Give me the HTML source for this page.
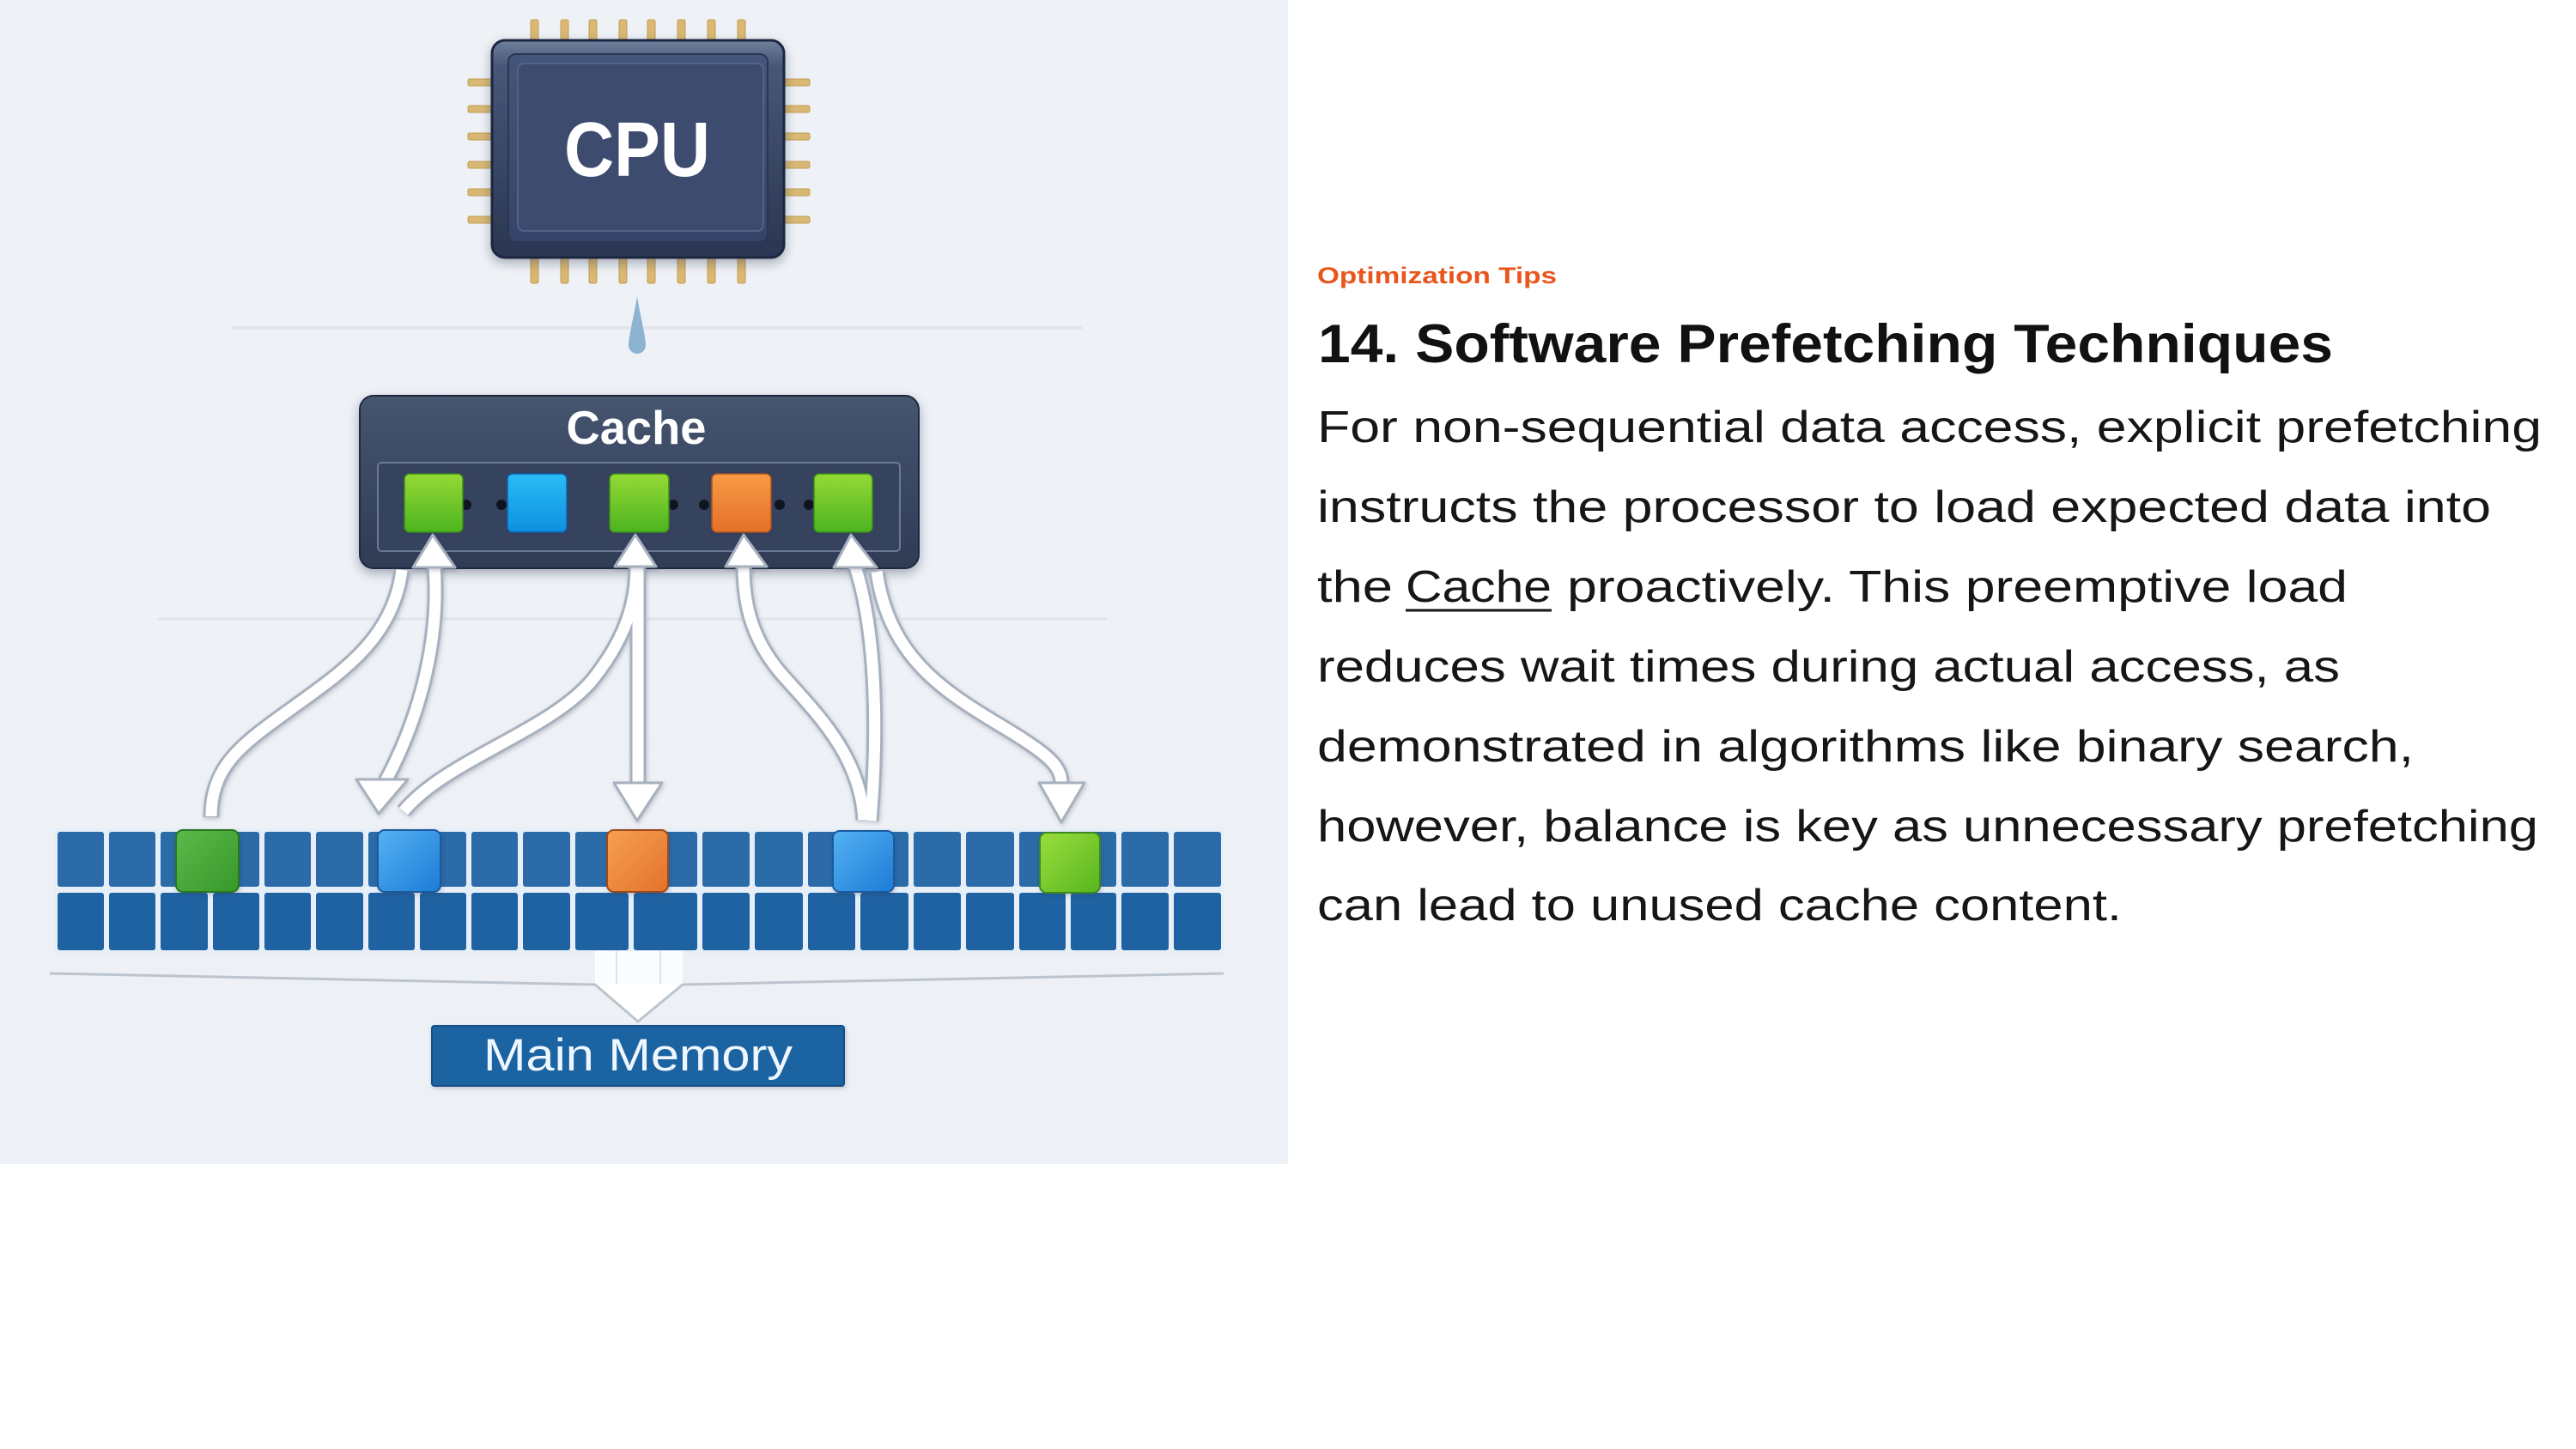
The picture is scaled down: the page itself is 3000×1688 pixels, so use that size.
<!DOCTYPE html>
<html>
<head>
<meta charset="utf-8">
<style>
  html, body { margin: 0; padding: 0; background: #ffffff; }
  body { width: 3000px; height: 1688px; overflow: hidden; }
  svg { display: block; }
</style>
</head>
<body>
<svg xmlns="http://www.w3.org/2000/svg" width="3000" height="1688" viewBox="0 0 3000 1688">
  <defs>
    <linearGradient id="panelBg" x1="0" y1="0" x2="0" y2="1">
      <stop offset="0" stop-color="#eef1f5"/>
      <stop offset="1" stop-color="#edf1f5"/>
    </linearGradient>
    <linearGradient id="cpuOuter" x1="0" y1="0" x2="0" y2="1">
      <stop offset="0" stop-color="#6f7f9c"/>
      <stop offset="0.12" stop-color="#475777"/>
      <stop offset="1" stop-color="#2a3652"/>
    </linearGradient>
    <linearGradient id="cpuFace" x1="0" y1="0" x2="0" y2="1">
      <stop offset="0" stop-color="#45557a"/>
      <stop offset="1" stop-color="#36446a"/>
    </linearGradient>
    <linearGradient id="cacheBg" x1="0" y1="0" x2="0" y2="1">
      <stop offset="0" stop-color="#46556f"/>
      <stop offset="1" stop-color="#2f3b56"/>
    </linearGradient>
    <linearGradient id="gGreen" x1="0" y1="0" x2="0" y2="1">
      <stop offset="0" stop-color="#95d935"/>
      <stop offset="1" stop-color="#4cb41f"/>
    </linearGradient>
    <linearGradient id="gBlue" x1="0" y1="0" x2="0" y2="1">
      <stop offset="0" stop-color="#2bbcf5"/>
      <stop offset="1" stop-color="#0e8fe0"/>
    </linearGradient>
    <linearGradient id="gOrange" x1="0" y1="0" x2="0" y2="1">
      <stop offset="0" stop-color="#f79a45"/>
      <stop offset="1" stop-color="#e5702a"/>
    </linearGradient>
    <linearGradient id="mGreen1" x1="0" y1="0" x2="1" y2="1">
      <stop offset="0" stop-color="#5cb94a"/>
      <stop offset="1" stop-color="#37982a"/>
    </linearGradient>
    <linearGradient id="mBlue" x1="0" y1="0" x2="1" y2="1">
      <stop offset="0" stop-color="#55b2f3"/>
      <stop offset="1" stop-color="#1c7bd6"/>
    </linearGradient>
    <linearGradient id="mOrange" x1="0" y1="0" x2="1" y2="1">
      <stop offset="0" stop-color="#f7a052"/>
      <stop offset="1" stop-color="#e2722a"/>
    </linearGradient>
    <linearGradient id="mGreen2" x1="0" y1="0" x2="1" y2="1">
      <stop offset="0" stop-color="#9ade3c"/>
      <stop offset="1" stop-color="#57b520"/>
    </linearGradient>
    <filter id="shadow" x="-20%" y="-20%" width="140%" height="150%">
      <feDropShadow dx="0" dy="5" stdDeviation="6" flood-color="#1a2540" flood-opacity="0.35"/>
    </filter>
    <filter id="softShadow" x="-20%" y="-20%" width="140%" height="140%">
      <feDropShadow dx="1" dy="2" stdDeviation="2.5" flood-color="#2a3550" flood-opacity="0.25"/>
    </filter>
  </defs>

  <!-- Left illustration panel -->
  <rect x="0" y="0" width="1500" height="1356" fill="url(#panelBg)"/>

  <!-- faint horizontal guide lines -->
  <line x1="270" y1="382" x2="1260" y2="382" stroke="#dfe4ea" stroke-width="3"/>
  <line x1="184" y1="721" x2="1289" y2="721" stroke="#e0e5eb" stroke-width="3"/>

  <!-- CPU pins -->
  <g fill="#d9b874" stroke="#c29d55" stroke-width="1">
    <rect x="618" y="23" width="9" height="28" rx="2"/>
    <rect x="653" y="23" width="9" height="28" rx="2"/>
    <rect x="686" y="23" width="9" height="28" rx="2"/>
    <rect x="721" y="23" width="9" height="28" rx="2"/>
    <rect x="754" y="23" width="9" height="28" rx="2"/>
    <rect x="789" y="23" width="9" height="28" rx="2"/>
    <rect x="824" y="23" width="9" height="28" rx="2"/>
    <rect x="859" y="23" width="9" height="28" rx="2"/>

    <rect x="618" y="296" width="9" height="34" rx="2"/>
    <rect x="653" y="296" width="9" height="34" rx="2"/>
    <rect x="686" y="296" width="9" height="34" rx="2"/>
    <rect x="721" y="296" width="9" height="34" rx="2"/>
    <rect x="754" y="296" width="9" height="34" rx="2"/>
    <rect x="789" y="296" width="9" height="34" rx="2"/>
    <rect x="824" y="296" width="9" height="34" rx="2"/>
    <rect x="859" y="296" width="9" height="34" rx="2"/>

    <rect x="545" y="92" width="32" height="8" rx="2"/>
    <rect x="545" y="123" width="32" height="8" rx="2"/>
    <rect x="545" y="155" width="32" height="8" rx="2"/>
    <rect x="545" y="188" width="32" height="8" rx="2"/>
    <rect x="545" y="220" width="32" height="8" rx="2"/>
    <rect x="545" y="252" width="32" height="8" rx="2"/>

    <rect x="910" y="92" width="33" height="8" rx="2"/>
    <rect x="910" y="123" width="33" height="8" rx="2"/>
    <rect x="910" y="155" width="33" height="8" rx="2"/>
    <rect x="910" y="188" width="33" height="8" rx="2"/>
    <rect x="910" y="220" width="33" height="8" rx="2"/>
    <rect x="910" y="252" width="33" height="8" rx="2"/>
  </g>

  <!-- CPU body -->
  <g filter="url(#shadow)">
    <rect x="573" y="47" width="340" height="253" rx="15" fill="url(#cpuOuter)" stroke="#1e2740" stroke-width="3"/>
  </g>
  <rect x="592" y="63" width="302" height="219" rx="9" fill="url(#cpuFace)" stroke="#2a3652" stroke-width="2"/>
  <rect x="603" y="74" width="286" height="195" rx="7" fill="#3c4b6e" stroke="#52628a" stroke-width="2"/>
  <text x="742" y="205" text-anchor="middle" font-family="'Liberation Sans', sans-serif" font-weight="700" font-size="90" fill="#ffffff" textLength="170" lengthAdjust="spacingAndGlyphs">CPU</text>

  <!-- CPU -> Cache connector drop -->
  <path d="M742,345 C744,360 752,392 752,402 A10,10 0 1 1 732,402 C732,392 740,360 742,345 Z" fill="#8db3d2"/>

  <!-- Cache box -->
  <g filter="url(#shadow)">
    <rect x="419" y="461" width="651" height="201" rx="16" fill="url(#cacheBg)" stroke="#1f2a3f" stroke-width="2"/>
  </g>
  <text x="741" y="517" text-anchor="middle" font-family="'Liberation Sans', sans-serif" font-weight="700" font-size="55" fill="#ffffff" textLength="163" lengthAdjust="spacingAndGlyphs">Cache</text>
  <rect x="440" y="539" width="608" height="103" rx="4" fill="#36435f" stroke="#6b7996" stroke-width="2"/>

  <!-- connector dots between cache blocks -->
  <g fill="#0f1420">
    <ellipse cx="543" cy="588" rx="6" ry="6"/>
    <ellipse cx="584" cy="588" rx="6" ry="6"/>
    <ellipse cx="784" cy="588" rx="6" ry="6"/>
    <ellipse cx="820" cy="588" rx="6" ry="6"/>
    <ellipse cx="908" cy="588" rx="6" ry="6"/>
    <ellipse cx="942" cy="588" rx="6" ry="6"/>
  </g>

  <!-- cache blocks -->
  <g filter="url(#softShadow)">
    <rect x="471" y="552" width="68" height="68" rx="6" fill="url(#gGreen)" stroke="#3a8a1a" stroke-width="1.5"/>
    <rect x="591" y="552" width="69" height="68" rx="6" fill="url(#gBlue)" stroke="#0a63a8" stroke-width="1.5"/>
    <rect x="710" y="552" width="69" height="68" rx="6" fill="url(#gGreen)" stroke="#3a8a1a" stroke-width="1.5"/>
    <rect x="829" y="552" width="69" height="68" rx="6" fill="url(#gOrange)" stroke="#a9521c" stroke-width="1.5"/>
    <rect x="948" y="552" width="68" height="68" rx="6" fill="url(#gGreen)" stroke="#3a8a1a" stroke-width="1.5"/>
  </g>

  <!-- Memory row -->
  <rect x="63" y="965" width="1363" height="146" fill="#e6eef7"/>
  <g fill="#2a6ba8">
    <rect x="67" y="969" width="54" height="64" rx="3"/>
    <rect x="127" y="969" width="54" height="64" rx="3"/>
    <rect x="187" y="969" width="55" height="64" rx="3"/>
    <rect x="248" y="969" width="54" height="64" rx="3"/>
    <rect x="308" y="969" width="54" height="64" rx="3"/>
    <rect x="368" y="969" width="55" height="64" rx="3"/>
    <rect x="429" y="969" width="54" height="64" rx="3"/>
    <rect x="489" y="969" width="54" height="64" rx="3"/>
    <rect x="549" y="969" width="54" height="64" rx="3"/>
    <rect x="609" y="969" width="55" height="64" rx="3"/>
    <rect x="670" y="969" width="62" height="64" rx="3"/>
    <rect x="738" y="969" width="74" height="64" rx="3"/>
    <rect x="818" y="969" width="55" height="64" rx="3"/>
    <rect x="879" y="969" width="56" height="64" rx="3"/>
    <rect x="941" y="969" width="55" height="64" rx="3"/>
    <rect x="1002" y="969" width="56" height="64" rx="3"/>
    <rect x="1064" y="969" width="55" height="64" rx="3"/>
    <rect x="1125" y="969" width="56" height="64" rx="3"/>
    <rect x="1187" y="969" width="54" height="64" rx="3"/>
    <rect x="1247" y="969" width="53" height="64" rx="3"/>
    <rect x="1306" y="969" width="55" height="64" rx="3"/>
    <rect x="1367" y="969" width="55" height="64" rx="3"/>
  </g>
  <g fill="#1f62a2">
    <rect x="67" y="1040" width="54" height="67" rx="3"/>
    <rect x="127" y="1040" width="54" height="67" rx="3"/>
    <rect x="187" y="1040" width="55" height="67" rx="3"/>
    <rect x="248" y="1040" width="54" height="67" rx="3"/>
    <rect x="308" y="1040" width="54" height="67" rx="3"/>
    <rect x="368" y="1040" width="55" height="67" rx="3"/>
    <rect x="429" y="1040" width="54" height="67" rx="3"/>
    <rect x="489" y="1040" width="54" height="67" rx="3"/>
    <rect x="549" y="1040" width="54" height="67" rx="3"/>
    <rect x="609" y="1040" width="55" height="67" rx="3"/>
    <rect x="670" y="1040" width="62" height="67" rx="3"/>
    <rect x="738" y="1040" width="74" height="67" rx="3"/>
    <rect x="818" y="1040" width="55" height="67" rx="3"/>
    <rect x="879" y="1040" width="56" height="67" rx="3"/>
    <rect x="941" y="1040" width="55" height="67" rx="3"/>
    <rect x="1002" y="1040" width="56" height="67" rx="3"/>
    <rect x="1064" y="1040" width="55" height="67" rx="3"/>
    <rect x="1125" y="1040" width="56" height="67" rx="3"/>
    <rect x="1187" y="1040" width="54" height="67" rx="3"/>
    <rect x="1247" y="1040" width="53" height="67" rx="3"/>
    <rect x="1306" y="1040" width="55" height="67" rx="3"/>
    <rect x="1367" y="1040" width="55" height="67" rx="3"/>
  </g>

  <!-- highlighted memory blocks -->
  <g filter="url(#softShadow)">
    <rect x="205" y="967" width="73" height="72" rx="8" fill="url(#mGreen1)" stroke="#2c7420" stroke-width="2"/>
    <rect x="440" y="967" width="73" height="72" rx="8" fill="url(#mBlue)" stroke="#1a5a9e" stroke-width="2"/>
    <rect x="707" y="967" width="71" height="72" rx="8" fill="url(#mOrange)" stroke="#9c4a1a" stroke-width="2"/>
    <rect x="970" y="968" width="71" height="71" rx="8" fill="url(#mBlue)" stroke="#1a5a9e" stroke-width="2"/>
    <rect x="1211" y="970" width="70" height="70" rx="8" fill="url(#mGreen2)" stroke="#3c8a1a" stroke-width="2"/>
  </g>

  <!-- Arrows between cache and memory -->
  <g fill="none" stroke-linecap="butt" filter="url(#softShadow)">
    <g stroke="#a7b1bd" stroke-width="19">
      <path d="M468,664 C458,745 395,785 340,825 C285,865 246,890 246,952"/>
      <path d="M506,660 C512,740 492,830 449,910"/>
      <path d="M470,945 C520,885 640,852 690,792 C730,742 741,700 741,660"/>
      <path d="M743,660 L743,912"/>
      <path d="M1006,955 C1002,880 950,830 910,785 C876,745 866,705 866,660"/>
      <path d="M1014,956 C1022,860 1022,740 996,660"/>
      <path d="M1021,666 C1035,760 1090,800 1160,842 C1215,875 1236,890 1236,912"/>
    </g>
    <g stroke="#ffffff" stroke-width="13">
      <path d="M468,664 C458,745 395,785 340,825 C285,865 246,890 246,951"/>
      <path d="M506,660 C512,740 492,830 449,910"/>
      <path d="M470,945 C520,885 640,852 690,792 C730,742 741,700 741,660"/>
      <path d="M743,660 L743,912"/>
      <path d="M1006,955 C1002,880 950,830 910,785 C876,745 866,705 866,660"/>
      <path d="M1014,956 C1022,860 1022,740 996,660"/>
      <path d="M1021,666 C1035,760 1090,800 1160,842 C1215,875 1236,890 1236,912"/>
    </g>
  </g>
  <!-- arrowheads -->
  <g fill="#ffffff" stroke="#a7b1bd" stroke-width="3" stroke-linejoin="round" filter="url(#softShadow)">
    <polygon points="504,623 530,661 481,661"/>
    <polygon points="740,623 764,660 716,660"/>
    <polygon points="866,623 893,660 845,660"/>
    <polygon points="991,623 1021,661 971,661"/>
    <polygon points="441,948 415,908 475,908"/>
    <polygon points="742,956 715,912 771,912"/>
    <polygon points="1236,958 1210,912 1263,912"/>
  </g>

  <!-- converge to main memory -->
  <rect x="693" y="1108" width="102" height="40" fill="#fbfcfd"/>
  <line x1="718" y1="1108" x2="718" y2="1146" stroke="#dde3ea" stroke-width="2"/>
  <line x1="769" y1="1108" x2="769" y2="1146" stroke="#dde3ea" stroke-width="2"/>
  <polygon points="693,1147 795,1147 743,1190" fill="#ffffff"/>
  <polyline points="58,1134 693,1147 743,1190 795,1147 1425,1134" fill="none" stroke="#bcc4ce" stroke-width="3" stroke-linejoin="round"/>

  <!-- Main Memory box -->
  <rect x="503" y="1195" width="480" height="70" rx="3" fill="#1f64a2" stroke="#174f85" stroke-width="2" filter="url(#softShadow)"/>
  <text x="743" y="1247" text-anchor="middle" font-family="'Liberation Sans', sans-serif" font-size="53" fill="#eef6ff" textLength="360" lengthAdjust="spacingAndGlyphs">Main Memory</text>

  <!-- Right text column -->
  <text x="1534" y="330" font-family="'Liberation Sans', sans-serif" font-weight="700" font-size="27" fill="#e8561c" textLength="279" lengthAdjust="spacingAndGlyphs">Optimization Tips</text>
  <text x="1535" y="422" font-family="'Liberation Sans', sans-serif" font-weight="700" font-size="63" fill="#111111" textLength="1182" lengthAdjust="spacingAndGlyphs">14. Software Prefetching Techniques</text>

  <g font-family="'Liberation Sans', sans-serif" font-size="52" fill="#161616">
    <text x="1534" y="515" textLength="1426" lengthAdjust="spacingAndGlyphs">For non-sequential data access, explicit prefetching</text>
    <text x="1534" y="608" textLength="1367" lengthAdjust="spacingAndGlyphs">instructs the processor to load expected data into</text>
    <text x="1534" y="701" textLength="88" lengthAdjust="spacingAndGlyphs">the</text>
    <text x="1637" y="701" textLength="170" lengthAdjust="spacingAndGlyphs">Cache</text>
    <text x="1825" y="701" textLength="909" lengthAdjust="spacingAndGlyphs">proactively. This preemptive load</text>
    <text x="1534" y="794" textLength="1191" lengthAdjust="spacingAndGlyphs">reduces wait times during actual access, as</text>
    <text x="1534" y="887" textLength="1277" lengthAdjust="spacingAndGlyphs">demonstrated in algorithms like binary search,</text>
    <text x="1534" y="980" textLength="1422" lengthAdjust="spacingAndGlyphs">however, balance is key as unnecessary prefetching</text>
    <text x="1534" y="1072" textLength="937" lengthAdjust="spacingAndGlyphs">can lead to unused cache content.</text>
  </g>
  <line x1="1637" y1="711" x2="1807" y2="711" stroke="#161616" stroke-width="3"/>
</svg>
</body>
</html>
